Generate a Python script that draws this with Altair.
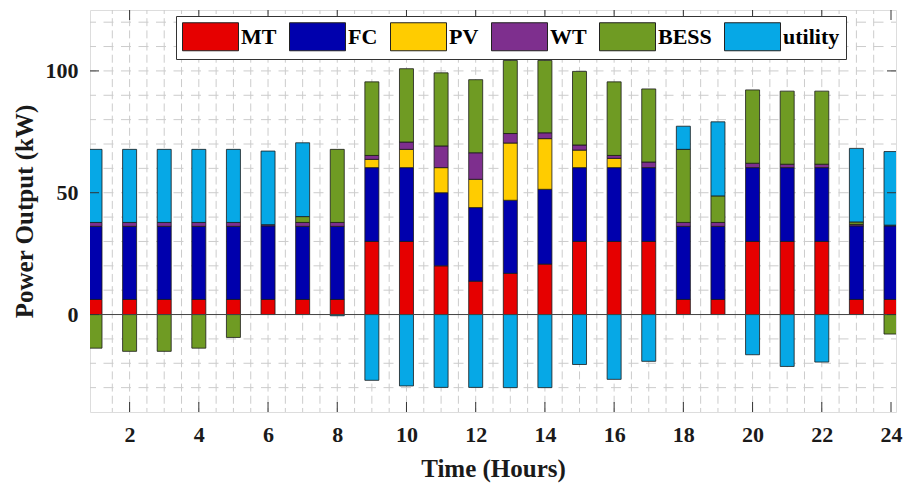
import altair as alt
import pandas as pd

hours = list(range(1, 25))
sources = ["MT", "FC", "PV", "WT", "BESS", "utility"]
colors = ["#E60000", "#0000AD", "#FFCC00", "#7E2F8E", "#6F9B23", "#06A8E6"]

MT = [6.2, 6.2, 6.2, 6.2, 6.2, 6.2, 6.2, 6.2,
      30, 30, 20, 13.7, 16.9, 20.7, 30, 30,
      30, 6.2, 6.2, 30, 30, 30, 6.2, 6.2]
FC = [30, 30, 30, 30, 30, 30.2, 30, 30,
      30.3, 30.3, 30, 30.2, 30, 30.7, 30.3, 30.3,
      30.3, 30, 30, 30.3, 30.3, 30.3, 30.2, 30.2]
PV = [0, 0, 0, 0, 0, 0, 0, 0,
      3.4, 7.5, 10.3, 11.6, 23.5, 20.8, 7.2, 3.8,
      0, 0, 0, 0, 0, 0, 0, 0]
WT = [1.6, 1.6, 1.6, 1.6, 1.6, 0.5, 1.6, 1.6,
      1.6, 3.0, 8.9, 10.9, 3.9, 2.4, 2.1, 1.2,
      2.3, 1.6, 1.6, 1.8, 1.4, 1.4, 0.6, 0.3]
BESS = [-13.8, -15.1, -15.1, -13.8, -9.4, 0, 2.4, 30,
        30.2, 30.1, 30, 30, 30, 29.7, 30.2, 30.2,
        30, 30, 10.9, 30.1, 30, 30, 1.0, -8.0]
utility = [30, 30, 30, 30, 30, 30.2, 30.3, -0.5,
           -27, -29.3, -29.9, -29.9, -30, -30, -20.5, -26.6,
           -19.2, 9.5, 30.4, -16.5, -21.3, -19.5, 30.2, 30.2]

x_ticks = [2, 4, 6, 8, 10, 12, 14, 16, 18, 20, 22, 24]
y_ticks = [0, 50, 100]
x_grid = [h / 2 for h in range(3, 48)]
y_grid = list(range(-30, 130, 10))

series = [MT, FC, PV, WT, BESS, utility]
rows = []
for i, (name, vals) in enumerate(zip(sources, series)):
    for h, v in zip(hours, vals):
        rows.append({"hour": h, "source": name, "value": v, "idx": i})
df = pd.DataFrame(rows)

W, H = 806, 402
FONT = "Liberation Serif"

xscale = alt.Scale(domain=[1, 24], nice=False, zero=False)
yscale = alt.Scale(domain=[-40, 125], nice=False, zero=False)

xaxis = alt.Axis(values=x_ticks, title="Time (Hours)", grid=False, ticks=False,
                 domain=False, labelFont=FONT, labelFontSize=22,
                 labelFontWeight="bold", labelColor="#1a1a1a", labelFlush=False,
                 labelPadding=12, titleFont=FONT, titleFontSize=25,
                 titleFontWeight="bold", titleColor="#1a1a1a", titlePadding=11)
yaxis = alt.Axis(values=y_ticks, title="Power Output (kW)", grid=False, ticks=False,
                 domain=False, labelFont=FONT, labelFontSize=22,
                 labelFontWeight="bold", labelColor="#1a1a1a", labelFlush=False,
                 labelPadding=12, titleFont=FONT, titleFontSize=25,
                 titleFontWeight="bold", titleColor="#1a1a1a", titlePadding=8)

def X(field):
    return alt.X(field, scale=xscale, axis=xaxis, title="Time (Hours)")

def Y(field, **kw):
    return alt.Y(field, scale=yscale, axis=yaxis, title="Power Output (kW)", **kw)

vgrid = alt.Chart(pd.DataFrame({"g": x_grid})).mark_rule(
    color="#cccccc", strokeWidth=1, strokeDash=[8, 4.18], strokeDashOffset=4
).encode(x=X("g:Q"))

hgrid = alt.Chart(pd.DataFrame({"g": y_grid})).mark_rule(
    color="#cccccc", strokeWidth=1, strokeDash=[10, 7.5], strokeDashOffset=5
).encode(y=Y("g:Q"))

bars = alt.Chart(df).transform_filter("datum.value != 0").mark_bar(
    size=14, clip=True, stroke="#1a1a1a", strokeWidth=0.8
).encode(
    x=X("hour:Q"),
    y=Y("value:Q", stack="zero"),
    color=alt.Color("source:N", scale=alt.Scale(domain=sources, range=colors),
                    legend=alt.Legend(title=None, orient="none", legendX=86, legendY=6,
                                      direction="horizontal", columns=6,
                                      symbolType="M-2,-1L2,-1L2,1L-2,1Z",
                                      symbolSize=784, symbolOffset=14,
                                      symbolStrokeColor="#222",
                                      symbolStrokeWidth=1, symbolOpacity=1,
                                      labelFont=FONT, labelFontSize=22, labelFontWeight="bold",
                                      labelColor="black", labelOffset=16, labelLimit=300,
                                      columnPadding=10, padding=6,
                                      strokeColor="#333", fillColor="white")),
    order=alt.Order("idx:Q"),
)

zero_line = alt.Chart(pd.DataFrame({"z": [0]})).mark_rule(
    color="#444", strokeWidth=1
).encode(y=Y("z:Q"))

tick_df = pd.DataFrame({"t": x_ticks})
xt_bottom = alt.Chart(tick_df).mark_rule(color="#333", strokeWidth=1).encode(
    x=X("t:Q"), y=alt.value(H - 10), y2=alt.value(H))
xt_top = alt.Chart(tick_df).mark_rule(color="#333", strokeWidth=1).encode(
    x=X("t:Q"), y=alt.value(0), y2=alt.value(10))

ytick_df = pd.DataFrame({"t": y_ticks})
yt_left = alt.Chart(ytick_df).mark_rule(color="#333", strokeWidth=1).encode(
    y=Y("t:Q"), x=alt.value(0), x2=alt.value(9))
yt_right = alt.Chart(ytick_df).mark_rule(color="#333", strokeWidth=1).encode(
    y=Y("t:Q"), x=alt.value(W - 9), x2=alt.value(W))

chart = alt.layer(vgrid, hgrid, bars, zero_line, xt_bottom, xt_top, yt_left, yt_right).properties(
    width=W, height=H,
    padding={"left": 90, "top": 10, "right": 11, "bottom": 74},
    autosize=alt.AutoSizeParams(type="none"),
).configure_view(stroke="#333", strokeWidth=1.2).configure(background="white")

chart.save("out.html", embed_options={"renderer": "svg", "actions": False})
